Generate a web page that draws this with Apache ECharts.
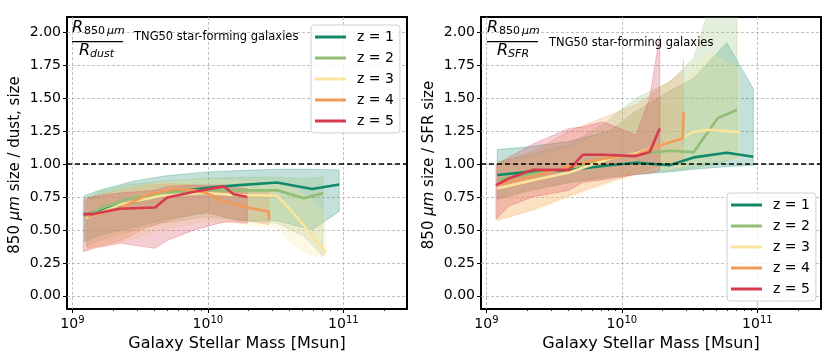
<!DOCTYPE html>
<html>
<head>
<meta charset="utf-8">
<title>TNG50 850um size ratios</title>
<script src="https://cdn.jsdelivr.net/npm/echarts@6/dist/echarts.min.js"></script>
</head>
<body style="margin:0">
<div id="main" style="width:830px;height:364px;"></div>
<script type="text/javascript">
var names = ['z = 1', 'z = 2', 'z = 3', 'z = 4', 'z = 5'];
var colors = ['#10896b', '#91be74', '#fae49b', '#f29a58', '#d63a4e'];

// x values are log10 of stellar mass
// left panel: 850um size / dust size
var dustX = [
    [9.09, 9.20, 9.45, 9.69, 10.00, 10.23, 10.51, 10.77, 10.97],
    [9.10, 9.20, 9.40, 9.65, 9.99, 10.24, 10.51, 10.71, 10.85],
    [9.10, 9.35, 9.65, 9.99, 10.19, 10.51, 10.63, 10.76, 10.87],
    [9.11, 9.36, 9.55, 9.75, 9.90, 9.99, 10.12, 10.29, 10.45, 10.45],
    [9.08, 9.15, 9.35, 9.61, 9.70, 9.90, 10.12, 10.19, 10.29]
];
var dustMid = [
    [0.61, 0.65, 0.71, 0.78, 0.82, 0.84, 0.86, 0.81, 0.845],
    [0.60, 0.66, 0.73, 0.78, 0.80, 0.80, 0.80, 0.74, 0.78],
    [0.59, 0.69, 0.76, 0.78, 0.765, 0.76, 0.63, 0.47, 0.33],
    [0.60, 0.67, 0.765, 0.81, 0.80, 0.78, 0.715, 0.67, 0.64, 0.575],
    [0.62, 0.62, 0.66, 0.67, 0.745, 0.79, 0.83, 0.77, 0.75]
];
var dustLo = [
    [0.41, 0.46, 0.52, 0.58, 0.63, 0.57, 0.57, 0.50, 0.64],
    [0.38, 0.42, 0.48, 0.55, 0.60, 0.57, 0.55, 0.45, 0.30],
    [0.34, 0.40, 0.50, 0.57, 0.55, 0.52, 0.38, 0.31, 0.30],
    [0.36, 0.42, 0.52, 0.58, 0.62, 0.64, 0.60, 0.57, 0.54, 0.54],
    [0.335, 0.36, 0.40, 0.36, 0.42, 0.50, 0.56, 0.56, 0.55]
];
var dustHi = [
    [0.76, 0.80, 0.87, 0.91, 0.94, 0.95, 0.96, 0.96, 0.955],
    [0.72, 0.79, 0.84, 0.87, 0.89, 0.90, 0.90, 0.89, 0.90],
    [0.70, 0.80, 0.86, 0.88, 0.87, 0.87, 0.82, 0.74, 0.62],
    [0.75, 0.80, 0.84, 0.85, 0.84, 0.83, 0.82, 0.80, 0.78, 0.74],
    [0.73, 0.75, 0.78, 0.80, 0.83, 0.84, 0.84, 0.82, 0.815]
];

// right panel: 850um size / SFR size
var sfrX = [
    [9.08, 9.31, 9.61, 9.91, 10.105, 10.35, 10.53, 10.775, 10.97],
    [9.08, 9.36, 9.61, 9.86, 10.105, 10.35, 10.53, 10.71, 10.85],
    [9.08, 9.36, 9.61, 9.91, 10.105, 10.45, 10.53, 10.65, 10.87],
    [9.08, 9.36, 9.61, 9.86, 10.105, 10.25, 10.45, 10.455],
    [9.07, 9.165, 9.34, 9.61, 9.71, 9.86, 10.105, 10.205, 10.28]
];
var sfrMid = [
    [0.917, 0.94, 0.955, 0.99, 1.01, 0.99, 1.05, 1.085, 1.055],
    [0.88, 0.93, 0.97, 1.03, 1.07, 1.10, 1.09, 1.35, 1.41],
    [0.815, 0.88, 0.935, 1.04, 1.08, 1.20, 1.245, 1.26, 1.24],
    [0.84, 0.91, 0.98, 1.04, 1.07, 1.13, 1.195, 1.395],
    [0.84, 0.89, 0.955, 0.955, 1.07, 1.07, 1.06, 1.09, 1.27]
];
var sfrLo = [
    [0.73, 0.80, 0.86, 0.90, 0.92, 0.94, 0.96, 0.98, 0.99],
    [0.74, 0.80, 0.86, 0.90, 0.93, 0.95, 0.97, 1.00, 1.05],
    [0.58, 0.65, 0.75, 0.85, 0.92, 0.98, 1.00, 1.02, 1.04],
    [0.57, 0.66, 0.76, 0.85, 0.93, 0.98, 1.00, 1.00],
    [0.58, 0.68, 0.75, 0.80, 0.86, 0.88, 0.92, 0.93, 0.95]
];
var sfrHi = [
    [1.11, 1.13, 1.17, 1.25, 1.40, 1.55, 1.65, 1.92, 1.57],
    [1.02, 1.08, 1.15, 1.30, 1.50, 1.62, 1.80, 2.40, 2.40],
    [0.98, 1.05, 1.12, 1.25, 1.40, 1.60, 1.72, 1.84, 1.72],
    [1.00, 1.10, 1.25, 1.35, 1.45, 1.55, 1.70, 1.79],
    [0.99, 1.05, 1.15, 1.27, 1.28, 1.32, 1.22, 1.50, 1.98]
];

var yTicks = [0, 0.25, 0.5, 0.75, 1, 1.25, 1.5, 1.75, 2];
var xTicks = [9, 10, 11];
var xMin = 8.96, xMax = 11.47;
var yMin = -0.1, yMax = 2.115;

var FONT = 'DejaVu Sans';
var gridLine = { show: true, lineStyle: { color: '#b0b0b0', type: [3, 2], width: 0.8 } };

var minorTicks = [];
[8, 9, 10, 11].forEach(function (e) {
    for (var m = 2; m <= 9; m++) {
        var v = e + Math.log10(m);
        if (v > xMin && v < xMax) minorTicks.push(v);
    }
});

function makeXAxes(gi) {
    return [{
        type: 'value', gridIndex: gi, min: xMin, max: xMax,
        axisLine: { show: false, onZero: false },
        axisTick: { show: true, customValues: xTicks, length: 4, lineStyle: { color: '#000', width: 1 } },
        axisLabel: {
            customValues: xTicks, margin: 6, color: '#000',
            formatter: function (v) { return '{b|10}{s|' + Math.round(v) + '}'; },
            rich: {
                b: { fontSize: 14, fontFamily: FONT, color: '#000', lineHeight: 18 },
                s: { fontSize: 10, fontFamily: FONT, color: '#000', lineHeight: 8, verticalAlign: 'top' }
            }
        },
        splitLine: gridLine,
        name: 'Galaxy Stellar Mass [Msun]', nameLocation: 'middle', nameGap: 25,
        nameTextStyle: { fontSize: 16, fontFamily: FONT, color: '#000' }
    }, {
        type: 'value', gridIndex: gi, min: xMin, max: xMax, position: 'bottom',
        axisLine: { show: false, onZero: false },
        axisTick: { show: true, customValues: minorTicks, length: 2, lineStyle: { color: '#000', width: 0.8 } },
        axisLabel: { show: false },
        splitLine: { show: false }
    }];
}

function makeYAxis(gi) {
    return {
        type: 'value', gridIndex: gi, min: yMin, max: yMax,
        axisLine: { show: false, onZero: false },
        axisTick: { show: true, customValues: yTicks, length: 4, lineStyle: { color: '#000', width: 1 } },
        axisLabel: {
            customValues: yTicks, margin: 6, fontSize: 14, fontFamily: FONT, color: '#000',
            formatter: function (v) { return v.toFixed(2); }
        },
        splitLine: gridLine
    };
}

function bandSeries(xs, lo, hi, color, gi) {
    var fill = echarts.color.modifyAlpha(color, 0.25);
    var edge = echarts.color.modifyAlpha(color, 0.35);
    return {
        type: 'custom', xAxisIndex: gi * 2, yAxisIndex: gi, silent: true, z: 2,
        data: [[xs[0], lo[0]]],
        renderItem: function (params, api) {
            var pts = [];
            for (var i = 0; i < xs.length; i++) pts.push(api.coord([xs[i], hi[i]]));
            for (var j = xs.length - 1; j >= 0; j--) pts.push(api.coord([xs[j], lo[j]]));
            var cs = params.coordSys;
            return {
                type: 'polygon',
                shape: { points: pts },
                style: { fill: fill, stroke: edge, lineWidth: 0.8 },
                clipPath: { type: 'rect', shape: { x: cs.x, y: cs.y, width: cs.width, height: cs.height } }
            };
        }
    };
}

function lineSeries(xs, mid, k, gi) {
    var s = {
        name: names[k], type: 'line', xAxisIndex: gi * 2, yAxisIndex: gi,
        data: xs.map(function (x, i) { return [x, mid[i]]; }),
        symbol: 'none', clip: true, z: 4,
        lineStyle: { width: 2.6, color: colors[k] },
        itemStyle: { color: colors[k] }
    };
    if (k === 0) {
        s.markLine = {
            silent: true, symbol: 'none', label: { show: false }, z: 5,
            lineStyle: { color: '#000', type: [5, 3], width: 1.7 },
            data: [{ yAxis: 1 }]
        };
    }
    return s;
}

var series = [];
[[dustX, dustMid, dustLo, dustHi], [sfrX, sfrMid, sfrLo, sfrHi]].forEach(function (p, gi) {
    for (var k = 0; k < 5; k++) series.push(bandSeries(p[0][k], p[2][k], p[3][k], colors[k], gi));
    for (var k2 = 0; k2 < 5; k2++) series.push(lineSeries(p[0][k2], p[1][k2], k2, gi));
});

function legendAt(left, top) {
    return {
        data: names, orient: 'vertical', left: left, top: top,
        icon: 'rect', itemWidth: 31, itemHeight: 3, itemGap: 7,
        textStyle: { fontSize: 14, fontFamily: FONT, color: '#000', padding: [0, 0, 0, 6] },
        backgroundColor: 'rgba(255,255,255,0.8)', borderColor: '#d0d0d0', borderWidth: 1, borderRadius: 3,
        padding: [5, 6, 5, 4]
    };
}

function fraction(x0, sub, dx) {
    return [{
        type: 'text', x: x0, y: 27.5, z: 10,
        style: {
            text: '{r|R}{n|850}{m|μm}', verticalAlign: 'middle',
            rich: {
                r: { fontSize: 16, fontStyle: 'italic', fontFamily: FONT, fill: '#000', lineHeight: 18 },
                n: { fontSize: 11, fontFamily: FONT, fill: '#000', lineHeight: 10, verticalAlign: 'bottom', padding: [0, 0, 0, 1] },
                m: { fontSize: 11, fontStyle: 'italic', fontFamily: FONT, fill: '#000', lineHeight: 10, verticalAlign: 'bottom', padding: [0, 0, 0, 2] }
            }
        }
    }, {
        type: 'line', z: 10,
        shape: { x1: x0, y1: 41.7, x2: x0 + 51, y2: 41.7 },
        style: { stroke: '#000', lineWidth: 1.2 }
    }, {
        type: 'text', x: x0 + dx, y: 50.5, z: 10,
        style: {
            text: '{r|R}{n|' + sub + '}', verticalAlign: 'middle',
            rich: {
                r: { fontSize: 16, fontStyle: 'italic', fontFamily: FONT, fill: '#000', lineHeight: 18 },
                n: { fontSize: 11, fontStyle: 'italic', fontFamily: FONT, fill: '#000', lineHeight: 10, verticalAlign: 'bottom' }
            }
        }
    }];
}

function yTitle(x, label) {
    return {
        type: 'text', x: x, y: 165, rotation: Math.PI / 2, z: 10,
        style: {
            text: label, align: 'center', verticalAlign: 'middle',
            fontSize: 15, fontFamily: FONT, fill: '#000',
            rich: { i: { fontSize: 15, fontStyle: 'italic', fontFamily: FONT, fill: '#000' } }
        }
    };
}

var graphic = [].concat(
    fraction(72, 'dust', 7),
    fraction(487, 'SFR', 10),
    [{
        type: 'text', x: 134, y: 37, z: 10,
        style: { text: 'TNG50 star-forming galaxies', fontSize: 11.5, fontFamily: FONT, fill: '#000', verticalAlign: 'middle' }
    }, {
        type: 'text', x: 549, y: 43, z: 10,
        style: { text: 'TNG50 star-forming galaxies', fontSize: 11.5, fontFamily: FONT, fill: '#000', verticalAlign: 'middle' }
    },
    yTitle(15, '850 {i|μm} size / dust, size'),
    yTitle(429, '850 {i|μm} size / SFR size')]
);

var chart = echarts.init(document.getElementById('main'));
chart.setOption({
    animation: false,
    backgroundColor: '#fff',
    grid: [
        { left: 67, right: 423, top: 17, bottom: 55, show: true, borderColor: '#000', borderWidth: 2, backgroundColor: 'transparent' },
        { left: 481, right: 9, top: 17, bottom: 55, show: true, borderColor: '#000', borderWidth: 2, backgroundColor: 'transparent' }
    ],
    xAxis: makeXAxes(0).concat(makeXAxes(1)),
    yAxis: [makeYAxis(0), makeYAxis(1)],
    legend: [legendAt(311, 25), legendAt(727, 193)],
    graphic: graphic,
    series: series
});
</script>
</body>
</html>
